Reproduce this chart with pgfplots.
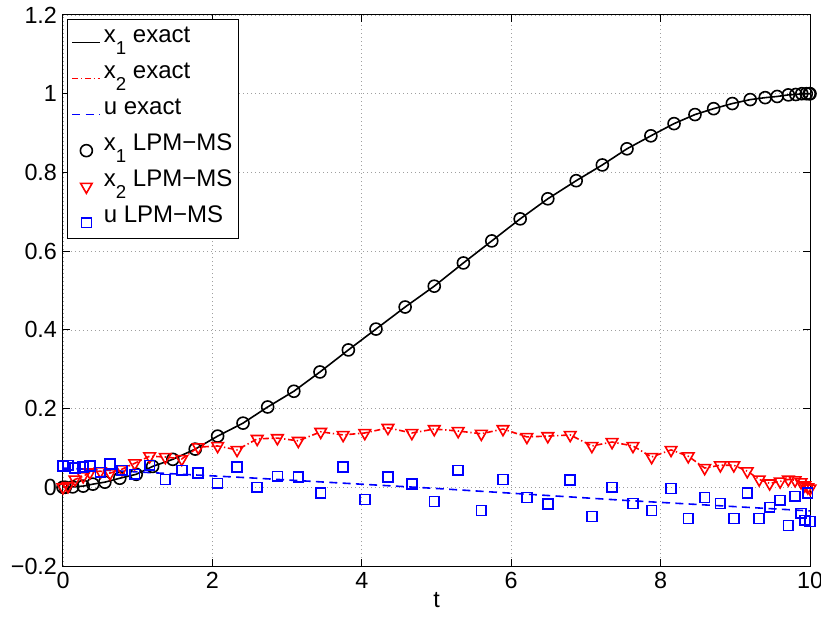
\documentclass[border=0pt]{standalone}
\usepackage{fontspec}
\setmainfont{Liberation Sans}
\usepackage{pgfplots}
\pgfplotsset{compat=1.18}
\definecolor{mred}{RGB}{255,0,0}
\definecolor{mblue}{RGB}{0,0,255}
\newcommand{\sub}[1]{\raisebox{-9pt}{\fontsize{14}{16}\selectfont #1}}
\pgfplotstableread{
t y
0 0
0.03 0.0
0.13 0.001
0.27 0.003
0.40 0.008
0.56 0.013
0.76 0.023
0.98 0.033
1.20 0.053
1.47 0.071
1.77 0.097
2.07 0.130
2.41 0.163
2.74 0.204
3.09 0.244
3.44 0.293
3.82 0.349
4.19 0.402
4.58 0.458
4.97 0.511
5.36 0.570
5.74 0.626
6.12 0.682
6.49 0.733
6.87 0.779
7.22 0.819
7.55 0.860
7.87 0.893
8.18 0.924
8.46 0.947
8.71 0.962
8.96 0.975
9.20 0.985
9.40 0.990
9.56 0.993
9.71 0.997
9.81 0.998
9.89 1.0
9.95 1.0
9.99 1.0
10 1.0
}\xone
\pgfplotstableread{
t y
0 0.0
0.067 0.003
0.16 0.020
0.27 0.028
0.36 0.038
0.50 0.041
0.63 0.036
0.79 0.046
0.96 0.061
1.16 0.079
1.37 0.077
1.59 0.072
1.81 0.102
2.07 0.105
2.33 0.095
2.60 0.123
2.87 0.125
3.15 0.118
3.45 0.141
3.75 0.133
4.04 0.138
4.35 0.151
4.67 0.138
4.97 0.148
5.29 0.143
5.60 0.136
5.89 0.148
6.21 0.128
6.49 0.130
6.79 0.133
7.08 0.105
7.35 0.115
7.63 0.105
7.88 0.077
8.14 0.095
8.37 0.079
8.59 0.049
8.80 0.056
8.98 0.056
9.16 0.041
9.32 0.020
9.46 0.010
9.60 0.015
9.71 0.020
9.80 0.018
9.88 0.013
9.93 0.005
9.97 0.0
10.0 -0.003
}\xtwo
\pgfplotstableread{
t y
0 0.054
0.067 0.056
0.16 0.049
0.27 0.051
0.36 0.054
0.50 0.038
0.63 0.059
0.79 0.043
0.96 0.033
1.16 0.056
1.37 0.020
1.59 0.043
1.81 0.036
2.07 0.010
2.33 0.051
2.60 0.0
2.87 0.028
3.15 0.026
3.45 -0.015
3.75 0.051
4.04 -0.031
4.35 0.026
4.67 0.008
4.97 -0.036
5.29 0.043
5.60 -0.059
5.89 0.020
6.21 -0.026
6.49 -0.043
6.79 0.018
7.08 -0.074
7.35 0.0
7.63 -0.041
7.88 -0.059
8.14 -0.003
8.37 -0.079
8.59 -0.026
8.80 -0.041
8.98 -0.079
9.16 -0.015
9.32 -0.079
9.46 -0.051
9.60 -0.033
9.71 -0.097
9.80 -0.023
9.88 -0.066
9.93 -0.084
9.97 -0.015
10.0 -0.087
}\uu
\pgfplotstableread{
t y
0 0.049
2.5 0.024
5 -0.003
7.5 -0.033
10 -0.060
}\uex
\begin{document}
\begin{tikzpicture}
\begin{axis}[
  scale only axis, width=560.25pt, height=413.25pt,
  at={(0pt,0pt)}, anchor=south west,
  xmin=0, xmax=10, ymin=-0.2, ymax=1.2,
  xtick={0,2,4,6,8,10}, xticklabels={0,2,4,6,8,10},
  ytick={-0.2,0,0.2,0.4,0.6,0.8,1,1.2},
  yticklabels={−0.2,0,0.2,0.4,0.6,0.8,1,1.2},
  grid=major,
  major grid style={gray!75, line width=0.5pt, dash pattern=on 0.6pt off 2.4pt},
  tick align=inside, major tick length=5.25pt,
  axis line style={line width=0.75pt},
  every tick/.style={black, line width=0.75pt},
  tick label style={font=\fontsize{17.5}{21}\selectfont},
  xticklabel style={yshift=-1pt},
  yticklabel style={xshift=-1pt},
  label style={font=\fontsize{17.5}{21}\selectfont},
  xlabel={t},
  xlabel style={yshift=4pt},
  legend cell align=left,
  legend image code/.code={\draw[mark repeat=2,mark phase=2,#1] plot coordinates {(0cm,-0.1cm) (0.37cm,-0.1cm) (0.74cm,-0.1cm)};},
  legend style={at={(0.0054,0.9927)}, anchor=north west, draw=black, line width=0.75pt,
    font=\fontsize{18}{21}\selectfont, inner xsep=3pt, inner ysep=1pt, row sep=0pt,
    nodes={text height=15pt, text depth=9pt, inner ysep=1.5pt},
    /tikz/every even column/.append style={column sep=1pt}},
]
\addplot[black, line width=1.2pt, no markers] table[x=t,y=y] {\xone};
\addlegendentry{x\sub{1} exact}
\addplot[mred, line width=1.2pt, no markers, dash pattern=on 4.5pt off 2pt on 1pt off 2pt] table[x=t,y=y] {\xtwo};
\addlegendentry{x\sub{2} exact}
\addplot[mblue, line width=1.2pt, no markers, dash pattern=on 6pt off 4pt] table[x=t,y=y] {\uex};
\addlegendentry{u exact}
\addplot[black, only marks, mark=o, mark size=4.5pt, mark options={line width=1.2pt}] table[x=t,y=y] {\xone};
\addlegendentry{x\sub{1} LPM−MS}
\addplot[mred, only marks, mark=triangle, mark size=5pt, mark options={rotate=180, line width=1.2pt}] table[x=t,y=y] {\xtwo};
\addlegendentry{x\sub{2} LPM−MS}
\addplot[mblue, only marks, mark=square, mark size=3.7pt, mark options={line width=1.2pt}] table[x=t,y=y] {\uu};
\addlegendentry{u LPM−MS}
\end{axis}
\pgfresetboundingbox
\path (-47.25pt,-39pt) rectangle (568.5pt,424.5pt);
\end{tikzpicture}
\end{document}
